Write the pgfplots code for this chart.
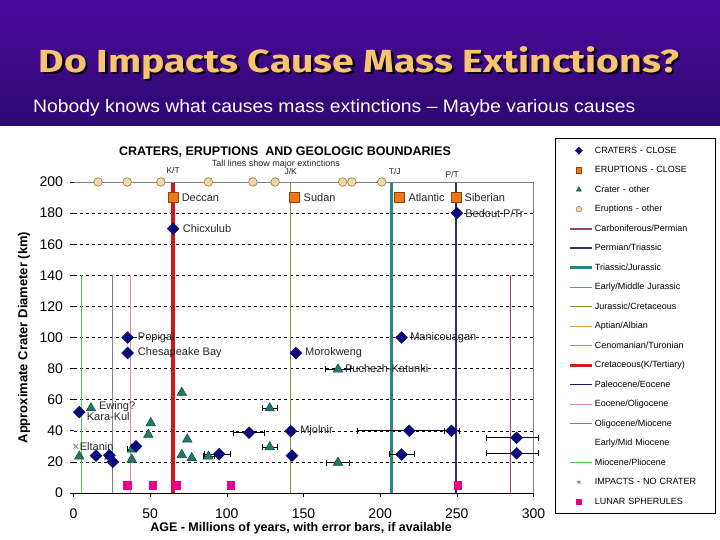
\documentclass[border=0pt]{standalone}
\usepackage{graphicx}
\usepackage{pgfplots}
\pgfplotsset{compat=1.18}
\usepackage{fontspec}
\setmainfont{Liberation Sans}
\newfontfamily\titlefont{Fira Sans}
\definecolor{bgtop}{HTML}{4C0A9C}
\definecolor{bgbot}{HTML}{2E0870}
\definecolor{titlecol}{HTML}{F8C470}
\definecolor{navyd}{HTML}{0A0A78}
\definecolor{orng}{HTML}{F07814}
\definecolor{orngedge}{HTML}{8A4010}
\definecolor{tealm}{HTML}{1F7A6A}
\definecolor{tealedge}{HTML}{12463C}
\definecolor{tanf}{HTML}{F2D8A8}
\definecolor{tanedge}{HTML}{A08848}
\definecolor{lcarb}{HTML}{8A4A78}
\definecolor{lpt}{HTML}{2E2E70}
\definecolor{ltj}{HTML}{2A8585}
\definecolor{lemj}{HTML}{5A9A9A}
\definecolor{ljk}{HTML}{8A8A3A}
\definecolor{lapt}{HTML}{E0A040}
\definecolor{lcen}{HTML}{C08850}
\definecolor{lkt}{HTML}{CC1A1A}
\definecolor{lpal}{HTML}{1A1A6A}
\definecolor{leo}{HTML}{E0909A}
\definecolor{lolig}{HTML}{808080}
\definecolor{lmio}{HTML}{50C850}
\pgfplotsset{
  lline/.style={legend image code/.code={\draw[##1] (0pt,0pt) -- (22pt,0pt);}},
  lmark/.style={legend image code/.code={\path (0pt,0pt) -- (22pt,0pt); \draw[##1] plot coordinates {(9pt,0pt)};}},
}
\begin{document}
\begin{tikzpicture}[x=1pt,y=1pt]
\useasboundingbox (0,0) rectangle (720,540);
\fill[white] (0,0) rectangle (720,540);
\shade[top color=bgtop, bottom color=bgbot] (0,414) rectangle (720,540);
\node[anchor=base, text=black!80!bgbot, font=\titlefont\bfseries\fontsize{32}{32}\selectfont] at (361.5,465.5) {\scalebox{1.225}[1]{Do Impacts Cause Mass Extinctions?}};
\node[anchor=base, text=titlecol, font=\titlefont\bfseries\fontsize{32}{32}\selectfont] at (359,467.5) {\scalebox{1.225}[1]{Do Impacts Cause Mass Extinctions?}};
\node[anchor=base west, text=white, font=\fontsize{18}{18}\selectfont, inner sep=0pt] at (33,427.5) {\scalebox{1.075}[1]{Nobody knows what causes mass extinctions -- Maybe various causes}};
\begin{axis}[
  at={(73.5pt,47pt)}, anchor=south west,
  scale only axis, width=460pt, height=311pt,
  xmin=0, xmax=300, ymin=0, ymax=200,
  xtick={0,50,...,300}, ytick={0,20,...,200},
  axis line style={draw=none},
  tick align=outside, major tick length=4pt,
  tick style={black, line width=0.6pt},
  tick pos=left,
  ymajorgrids, grid style={black, line width=0.5pt, dash pattern=on 3pt off 3pt},
  tick label style={font=\fontsize{14}{14}\selectfont},
  yticklabel style={xshift=-3pt},
  xticklabel style={yshift=-8pt},
  /pgf/number format/assume math mode=true,
  xlabel={AGE - Millions of years, with error bars, if available},
  ylabel={Approximate Crater Diameter (km)},
  every axis x label/.style={at={(axis description cs:0.4946,-0.1125)}, anchor=center, font=\bfseries\fontsize{12.5}{13}\selectfont},
  every axis y label/.style={at={(axis description cs:-0.1076,0.5)}, rotate=90, anchor=center, font=\bfseries\fontsize{13}{14}\selectfont},
  clip=false,
  legend style={at={(axis description cs:1.0467,1.1415)}, anchor=north west, draw=black, line width=0.8pt, inner xsep=13pt, inner ysep=2.5pt, row sep=0pt, font=\fontsize{9}{10}\selectfont, nodes={inner xsep=1.5pt, inner ysep=0pt, minimum height=19.5pt, text width=106pt}},
  legend cell align=left,
]
% legend entries
\addlegendimage{lmark, draw=none, mark=square*, mark size=2.6pt, mark options={rotate=45, fill=navyd, draw=navyd, line width=0.4pt}}
\addlegendentry{CRATERS - CLOSE}
\addlegendimage{lmark, draw=none, mark=square*, mark size=2.8pt, mark options={fill=orng, draw=orngedge, line width=0.4pt}}
\addlegendentry{ERUPTIONS - CLOSE}
\addlegendimage{lmark, draw=none, mark=triangle*, mark size=3pt, mark options={fill=tealm, draw=tealedge, line width=0.4pt}}
\addlegendentry{Crater - other}
\addlegendimage{lmark, draw=none, mark=*, mark size=2.8pt, mark options={fill=tanf, draw=tanedge, line width=0.6pt}}
\addlegendentry{Eruptions - other}
\addlegendimage{lline, draw=lcarb, line width=2pt}
\addlegendentry{Carboniferous/Permian}
\addlegendimage{lline, draw=lpt, line width=2pt}
\addlegendentry{Permian/Triassic}
\addlegendimage{lline, draw=ltj, line width=3pt}
\addlegendentry{Triassic/Jurassic}
\addlegendimage{lline, draw=lemj, line width=1pt}
\addlegendentry{Early/Middle Jurassic}
\addlegendimage{lline, draw=ljk, line width=1pt}
\addlegendentry{Jurassic/Cretaceous}
\addlegendimage{lline, draw=lapt, line width=1pt}
\addlegendentry{Aptian/Albian}
\addlegendimage{lline, draw=lcen, line width=1pt}
\addlegendentry{Cenomanian/Turonian}
\addlegendimage{lline, draw=lkt, line width=3pt}
\addlegendentry{Cretaceous(K/Tertiary)}
\addlegendimage{lline, draw=lpal, line width=1pt}
\addlegendentry{Paleocene/Eocene}
\addlegendimage{lline, draw=leo, line width=1pt}
\addlegendentry{Eocene/Oligocene}
\addlegendimage{lline, draw=lolig, line width=1pt}
\addlegendentry{Oligocene/Miocene}
\addlegendimage{lline, draw=white, line width=1pt}
\addlegendentry{Early/Mid Miocene}
\addlegendimage{lline, draw=lmio, line width=1pt}
\addlegendentry{Miocene/Pliocene}
\addlegendimage{lmark, draw=none, mark=asterisk, mark size=2.6pt, mark options={draw=gray, line width=0.6pt}}
\addlegendentry{IMPACTS - NO CRATER}
\addlegendimage{lmark, draw=none, mark=square*, mark size=2.6pt, mark options={fill=magenta, draw=magenta}}
\addlegendentry{LUNAR SPHERULES}
% boundary lines
\addplot[forget plot, draw=lmio, line width=1pt] coordinates {(5,0) (5,140)};
\addplot[forget plot, draw=lolig, line width=1pt] coordinates {(25.3,0) (25.3,140)};
\addplot[forget plot, draw=leo, line width=1pt] coordinates {(37,0) (37,140)};
\addplot[forget plot, draw=lcarb, line width=1pt] coordinates {(285,0) (285,140)};
\addplot[forget plot, draw=ljk, line width=1pt] coordinates {(141.7,0) (141.7,200)};
\addplot[forget plot, draw=ltj, line width=2.5pt] coordinates {(207.5,0) (207.5,200)};
\addplot[forget plot, draw=lpt, line width=2.5pt] coordinates {(249.5,0) (249.5,200)};
\addplot[forget plot, draw=lkt, line width=4pt] coordinates {(65,0) (65,200)};
\end{axis}
\begin{axis}[
  at={(73.5pt,47pt)}, anchor=south west,
  scale only axis, width=460pt, height=311pt,
  xmin=0, xmax=300, ymin=0, ymax=200,
  axis lines=none, clip=false,
]
% frame
\draw[gray, line width=0.8pt] (axis cs:0,200) -- (axis cs:300,200) -- (axis cs:300,0);
\draw[black, line width=0.8pt] (axis cs:0,0) -- (axis cs:300,0);
% eruptions - other
\addplot[only marks, mark=*, mark size=4.3pt, mark options={fill=tanf, draw=tanedge, line width=0.7pt}]
coordinates {(16,200) (35,200) (57,200) (88,200) (117,200) (131.5,200) (175.5,200) (181.5,200) (201,200)};
% lunar spherules
\addplot[only marks, mark=square*, mark size=3.6pt, mark options={fill=magenta, draw=magenta}]
coordinates {(35,5) (51.5,5) (67,5) (102.5,5) (250.5,5)};
% impacts - no crater
\addplot[only marks, mark=x, mark size=3.5pt, mark options={draw=gray, line width=0.8pt}]
coordinates {(1.5,30)};
% eruptions - close
\addplot[only marks, mark=square*, mark size=4.8pt, mark options={fill=orng, draw=orngedge, line width=0.5pt}]
coordinates {(65,190) (144,190) (212.5,190) (249.5,190)};
% craters - other with error bars
\addplot[only marks, mark=triangle*, mark size=5.5pt, mark options={fill=tealm, draw=tealedge, line width=0.5pt},
  error bars/.cd, x dir=both, x explicit, error bar style={black, line width=0.6pt}, error mark options={rotate=90, mark size=3pt, black, line width=0.6pt}]
coordinates {
 (128,54.5) +- (5,0)
 (128,29.5) +- (5,0)
 (172.5,79.5) +- (8,0)
 (172.5,19.5) +- (7.5,0)
 (88,23.5) +- (3.5,0)
 (38,28) +- (3,0)
};
% craters - other
\addplot[only marks, mark=triangle*, mark size=5.5pt, mark options={fill=tealm, draw=tealedge, line width=0.5pt}]
coordinates {
 (3.8,23.5) (11.4,54.5) (23.4,23.5) (38,21.5) (48.8,37.5) (50.4,45)
 (70.6,64.5) (74.2,34.5) (70.6,24.5) (77.1,22.5)
};
% craters - close with error bars
\addplot[only marks, mark=square*, mark size=4.2pt, mark options={rotate=45, fill=navyd, draw=navyd},
  error bars/.cd, x dir=both, x explicit, error bar style={black, line width=0.6pt}, error mark options={rotate=90, mark size=3pt, black, line width=0.6pt}]
coordinates {
 (95,25) += (7,0) -= (10,0)
 (114.5,38.8) +- (10,0)
 (219,40) += (27,0) -= (34,0)
 (246.5,40) +- (5,0)
 (214,24.8) +- (8,0)
 (289,35.5) += (14,0) -= (19.5,0)
 (289,25.5) += (14,0) -= (19.5,0)
};
% craters - close
\addplot[only marks, mark=square*, mark size=4.2pt, mark options={rotate=45, fill=navyd, draw=navyd}]
coordinates {
 (65,170) (250,180) (35.3,100) (35.3,90) (145,90) (214,100)
 (3.8,52) (14.7,24) (23.4,24.3) (25.6,20) (40.8,30)
 (141.7,39.8) (142.5,24)
};
% labels
\tikzset{lab/.style={anchor=west, inner sep=0pt, text=black!85, font=\fontsize{11}{11}\selectfont}}
\node[lab] at (axis cs:70.5,190) {Deccan};
\node[lab] at (axis cs:71.2,170) {Chicxulub};
\node[lab] at (axis cs:150,190) {Sudan};
\node[lab] at (axis cs:218.4,190) {Atlantic};
\node[lab] at (axis cs:255,190) {Siberian};
\node[lab] at (axis cs:255.4,180) {Bedout P/Tr};
\node[lab] at (axis cs:41.9,100) {Popigai};
\node[lab] at (axis cs:41.9,90) {Chesapeake Bay};
\node[lab] at (axis cs:151,90) {Morokweng};
\node[lab] at (axis cs:219.5,100) {Manicouagan};
\node[lab] at (axis cs:177,80) {Puchezh-Katunki};
\node[lab] at (axis cs:147.8,40) {Mjolnir};
\node[lab] at (axis cs:16.6,55.5) {Ewing?};
\node[lab] at (axis cs:8.6,49) {Kara-Kul};
\node[lab] at (axis cs:4,30) {Eltanin};
\tikzset{toplab/.style={inner sep=0pt, text=black!85, font=\fontsize{8.5}{9}\selectfont}}
\node[toplab] at (axis cs:65,207.5) {K/T};
\node[toplab] at (axis cs:141.7,206.5) {J/K};
\node[toplab] at (axis cs:209.5,206.5) {T/J};
\node[toplab] at (axis cs:247,205) {P/T};
\node[toplab, font=\fontsize{9}{9}\selectfont] at (axis cs:132,211.5) {Tall lines show major extinctions};
\end{axis}
\node[font=\bfseries\fontsize{12.5}{13}\selectfont] at (285,388) {CRATERS, ERUPTIONS\ \ AND GEOLOGIC BOUNDARIES};
\end{tikzpicture}
\end{document}
